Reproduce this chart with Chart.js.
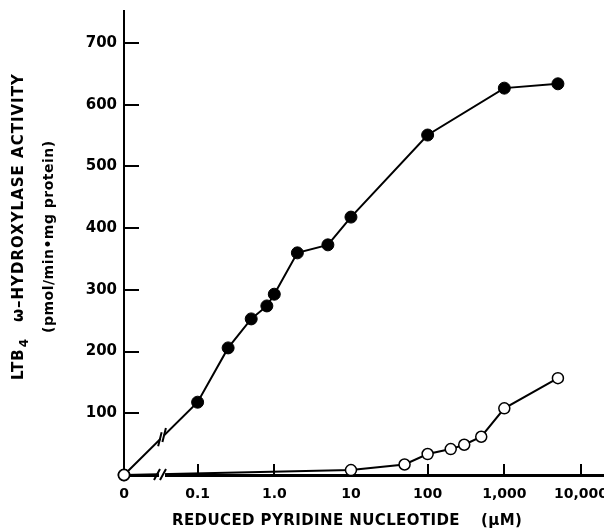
<!DOCTYPE html>
<html>
<head>
<meta charset="utf-8">
<script src="https://cdn.jsdelivr.net/npm/chart.js@4.4.1/dist/chart.umd.min.js"></script>
<style>
html, body { margin: 0; padding: 0; background: #fff; overflow: hidden; }
</style>
</head>
<body>
<canvas id="graf" width="604" height="531"></canvas>
<script>
// concentrations in uM, 0 sits left of the axis break
const nadphConc = [0, 0.1, 0.25, 0.5, 0.8, 1, 2, 5, 10, 100, 1000, 5000];
const nadphActivity = [0, 118, 206, 253, 274, 293, 360, 373, 418, 551, 627, 634];
const nadhConc = [0, 10, 50, 100, 200, 300, 500, 1000, 5000];
const nadhActivity = [0, 8, 17, 34, 42, 49, 62, 108, 157];
const xTickValues = [0, 0.1, 1, 10, 100, 1000, 10000];
const xTickLabels = ["0", "0.1", "1.0", "10", "100", "1,000", "10,000"];
const yTickValues = [100, 200, 300, 400, 500, 600, 700];

const ZERO_POS = -1.96; // where "0" lands on the log axis
function pos(c) { return c === 0 ? ZERO_POS : Math.log10(c); }

const FONT = "DejaVu Sans";

function pts(conc, act) {
    return conc.map(function(c, i) { return { x: pos(c), y: act[i] }; });
}

// ticks pointing into the plot, axis breaks, axis titles
const extras = {
    id: "extras",
    beforeDatasetsDraw: function(chart) {
        const ctx = chart.ctx;
        const xs = chart.scales.x, ys = chart.scales.y;
        const a = chart.chartArea;
        ctx.save();
        ctx.strokeStyle = "#000";
        ctx.lineWidth = 2;
        ctx.beginPath();
        yTickValues.forEach(function(v) {
            const py = Math.round(ys.getPixelForValue(v));
            ctx.moveTo(a.left, py);
            ctx.lineTo(a.left + 15, py);
        });
        xTickValues.forEach(function(v) {
            if (v === 0) return;
            const px = Math.round(xs.getPixelForValue(pos(v)));
            ctx.moveTo(px, a.bottom);
            ctx.lineTo(px, a.bottom - 11);
        });
        ctx.stroke();
        ctx.restore();
    },
    afterDatasetsDraw: function(chart) {
        const ctx = chart.ctx;
        const xs = chart.scales.x, ys = chart.scales.y;
        const a = chart.chartArea;
        ctx.save();
        ctx.strokeStyle = "#000";
        ctx.lineWidth = 2;

        // break on the x axis
        const bx = a.left + 38;
        ctx.fillStyle = "#fff";
        ctx.fillRect(bx - 3, a.bottom - 3, 6, 6);
        ctx.beginPath();
        ctx.moveTo(bx - 8, a.bottom + 5); ctx.lineTo(bx - 2, a.bottom - 6);
        ctx.moveTo(bx - 2, a.bottom + 5); ctx.lineTo(bx + 4, a.bottom - 6);
        ctx.stroke();

        // break on the first NADPH segment
        const x0 = xs.getPixelForValue(pos(0)), y0 = ys.getPixelForValue(0);
        const x1 = xs.getPixelForValue(pos(0.1)), y1 = ys.getPixelForValue(nadphActivity[1]);
        const t = 0.52;
        const cx = x0 + (x1 - x0) * t, cy = y0 + (y1 - y0) * t;
        const ang = Math.atan2(y1 - y0, x1 - x0);
        ctx.translate(cx, cy);
        ctx.rotate(ang);
        ctx.fillRect(-2.5, -3, 5, 6);
        ctx.rotate(-ang);
        ctx.beginPath();
        const dx = Math.cos(ang) * 3, dy = Math.sin(ang) * 3;
        [-1, 1].forEach(function(s) {
            ctx.moveTo(s * dx - 2, s * dy + 7);
            ctx.lineTo(s * dx + 1.5, s * dy - 7);
        });
        ctx.stroke();
        ctx.restore();
    },
    afterDraw: function(chart) {
        const ctx = chart.ctx;
        ctx.save();
        ctx.fillStyle = "#000";
        ctx.textBaseline = "middle";
        ctx.textAlign = "left";

        // x title
        ctx.font = "bold 15px '" + FONT + "'";
        ctx.letterSpacing = "0.4px";
        ctx.fillText("REDUCED PYRIDINE NUCLEOTIDE", 172, 521);
        ctx.fillText("(\u03BCM)", 481, 521);

        // y title, two rotated lines
        ctx.save();
        ctx.translate(19, 380);
        ctx.rotate(-Math.PI / 2);
        ctx.font = "bold 15px '" + FONT + "'";
        ctx.letterSpacing = "1px";
        ctx.fillText("LTB", 0, 0);
        let w = ctx.measureText("LTB").width;
        ctx.font = "bold 12px '" + FONT + "'";
        ctx.fillText("4", w + 1, 6);
        ctx.font = "bold 15px '" + FONT + "'";
        ctx.fillText("\u03C9\u2013HYDROXYLASE ACTIVITY", 58, 0);
        ctx.restore();

        ctx.save();
        ctx.translate(49, 333);
        ctx.rotate(-Math.PI / 2);
        ctx.font = "bold 14px '" + FONT + "'";
        ctx.letterSpacing = "0.5px";
        ctx.fillText("(pmol/min\u2022mg protein)", 0, 0);
        ctx.restore();

        ctx.restore();
    }
};

const ctx = document.getElementById("graf").getContext("2d");
new Chart(ctx, {
    type: "line",
    data: {
        datasets: [
            {
                label: "NADH",
                data: pts(nadhConc, nadhActivity),
                borderColor: "#000",
                borderWidth: 2,
                pointRadius: 5.5,
                pointBorderWidth: 1.5,
                pointBackgroundColor: "#fff",
                pointBorderColor: "#000",
                tension: 0,
                clip: false
            },
            {
                label: "NADPH",
                data: pts(nadphConc, nadphActivity),
                borderColor: "#000",
                borderWidth: 2,
                pointRadius: 6,
                pointBorderWidth: 1,
                pointBackgroundColor: "#000",
                pointBorderColor: "#000",
                tension: 0,
                clip: false
            }
        ]
    },
    options: {
        responsive: false,
        animation: false,
        devicePixelRatio: 1,
        layout: { autoPadding: false, padding: { top: 11, left: 0, right: 0, bottom: 0 } },
        plugins: { legend: { display: false }, tooltip: { enabled: false } },
        scales: {
            x: {
                type: "linear",
                min: ZERO_POS,
                max: 4.3,
                grid: { display: false, drawTicks: false },
                border: { display: true, color: "#000", width: 3 },
                afterBuildTicks: function(scale) {
                    scale.ticks = xTickValues.map(function(v) { return { value: pos(v) }; });
                },
                afterFit: function(scale) {
                    scale.height = 56;
                    scale.paddingLeft = 0;
                    scale.paddingRight = 0;
                },
                ticks: {
                    autoSkip: false,
                    maxRotation: 0,
                    padding: 11,
                    color: "#000",
                    font: { family: FONT, size: 14, weight: "bold" },
                    callback: function(v, i) { return xTickLabels[i]; }
                }
            },
            y: {
                min: 0,
                max: 752,
                grid: { display: false, drawTicks: false },
                border: { display: true, color: "#000", width: 2 },
                afterBuildTicks: function(scale) {
                    scale.ticks = yTickValues.map(function(v) { return { value: v }; });
                },
                afterFit: function(scale) {
                    scale.width = 124;
                    scale.paddingTop = 0;
                    scale.paddingBottom = 0;
                },
                ticks: {
                    padding: 7,
                    color: "#000",
                    font: { family: FONT, size: 15, weight: "bold" }
                }
            }
        }
    },
    plugins: [extras]
});
</script>
</body>
</html>
